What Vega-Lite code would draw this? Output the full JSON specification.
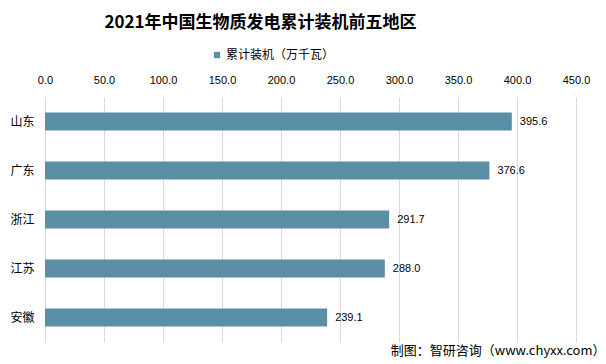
{
  "$schema": "https://vega.github.io/schema/vega-lite/v6.json",
  "width": 531,
  "height": 245,
  "autosize": {"type": "none"},
  "padding": {"left": 45, "top": 97, "right": 30, "bottom": 22},
  "background": "white",
  "title": {
    "text": "2021年中国生物质发电累计装机前五地区",
    "font": "Noto Sans CJK SC",
    "fontSize": 17,
    "fontWeight": "bold",
    "color": "#000000",
    "anchor": "middle",
    "dx": -50,
    "offset": 17
  },
  "data": {
    "values": [
      {"region": "山东", "value": 395.6, "series": "累计装机（万千瓦）"},
      {"region": "广东", "value": 376.6, "series": "累计装机（万千瓦）"},
      {"region": "浙江", "value": 291.7, "series": "累计装机（万千瓦）"},
      {"region": "江苏", "value": 288.0, "series": "累计装机（万千瓦）"},
      {"region": "安徽", "value": 239.1, "series": "累计装机（万千瓦）"}
    ]
  },
  "encoding": {
    "y": {
      "field": "region",
      "type": "nominal",
      "sort": null,
      "scale": {"paddingInner": 0.63, "paddingOuter": 0.315},
      "axis": {
        "title": null,
        "domain": false,
        "ticks": false,
        "labelPadding": 11,
        "labelFont": "Noto Sans CJK SC",
        "labelFontSize": 12,
        "labelColor": "#000000"
      }
    }
  },
  "layer": [
    {
      "mark": {"type": "bar", "color": "#5B8FA6"},
      "encoding": {
        "x": {
          "field": "value",
          "type": "quantitative",
          "scale": {"domain": [0, 450], "nice": false},
          "axis": {
            "orient": "top",
            "title": null,
            "values": [0, 50, 100, 150, 200, 250, 300, 350, 400, 450],
            "format": ".1f",
            "domain": false,
            "ticks": false,
            "grid": true,
            "gridColor": "#D9D9D9",
            "gridWidth": 1,
            "labelPadding": 12,
            "labelFont": "Liberation Sans",
            "labelFontSize": 11,
            "labelColor": "#000000",
            "labelFlush": false
          }
        },
        "color": {
          "field": "series",
          "type": "nominal",
          "scale": {"range": ["#5B8FA6"]},
          "legend": {
            "orient": "none",
            "legendX": 166,
            "legendY": -48,
            "direction": "horizontal",
            "title": null,
            "symbolType": "square",
            "symbolSize": 40,
            "symbolStrokeWidth": 0,
            "labelFont": "Noto Sans CJK SC",
            "labelFontSize": 12,
            "labelColor": "#000000",
            "labelOffset": 3
          }
        }
      }
    },
    {
      "mark": {
        "type": "text",
        "align": "left",
        "baseline": "middle",
        "dx": 8,
        "font": "Liberation Sans",
        "fontSize": 11,
        "color": "#000000"
      },
      "encoding": {
        "x": {
          "field": "value",
          "type": "quantitative",
          "axis": {
            "orient": "bottom",
            "labels": false,
            "ticks": false,
            "domain": false,
            "grid": false,
            "title": "制图：智研咨询（www.chyxx.com）",
            "titleFont": "Noto Sans CJK SC",
            "titleFontSize": 13,
            "titleFontWeight": "normal",
            "titleColor": "#000000",
            "titleAlign": "right",
            "titleAnchor": "end",
            "titleX": 560,
            "titleY": 2,
            "titleBaseline": "top"
          }
        },
        "text": {"field": "value", "type": "quantitative", "format": ".1f"}
      }
    }
  ],
  "resolve": {"axis": {"x": "independent"}},
  "config": {"view": {"stroke": null}}
}
